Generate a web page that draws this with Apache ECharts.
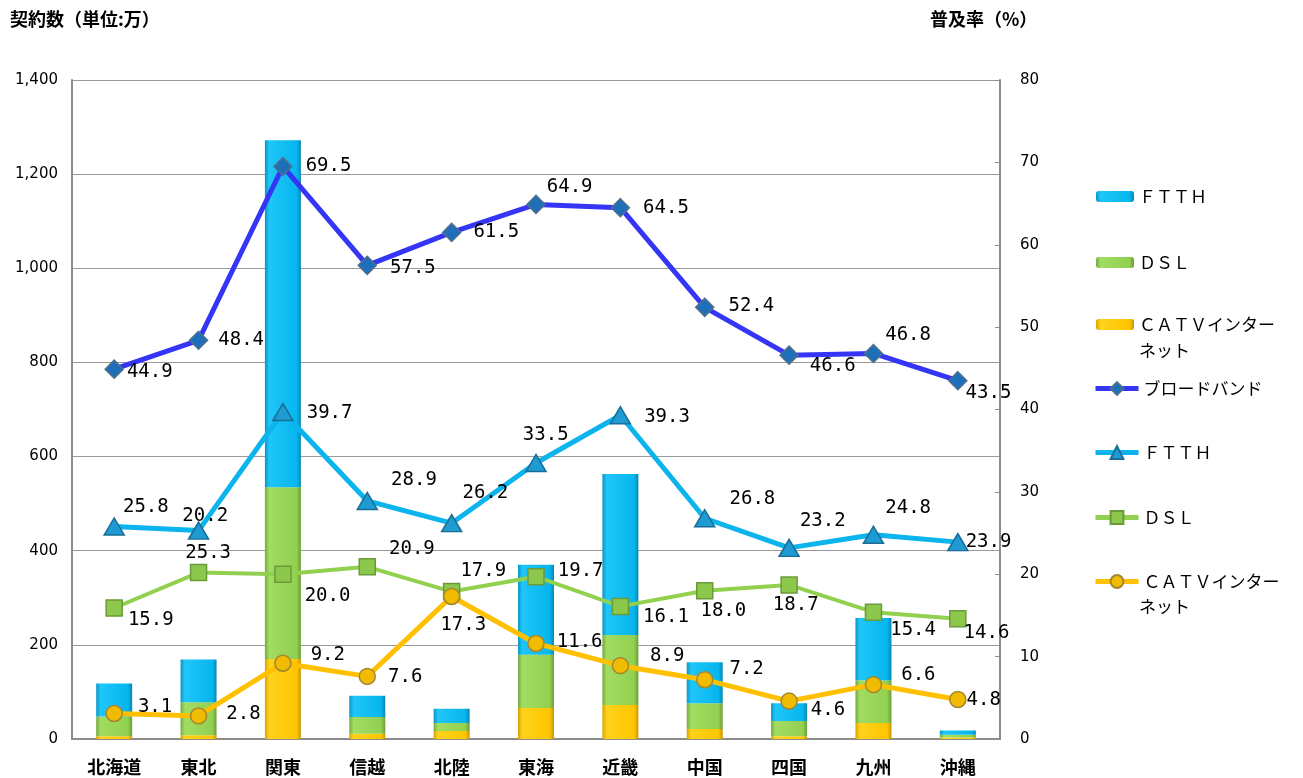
<!DOCTYPE html>
<html>
<head>
<meta charset="utf-8">
<script src="https://cdn.jsdelivr.net/npm/echarts@6/dist/echarts.min.js"></script>
<style>
  html, body { margin: 0; padding: 0; background: #fff; }
  #chart { width: 1303px; height: 778px; }
</style>
</head>
<body>
<div id="chart"></div>
<script>
// regions
const categories = ['北海道', '東北', '関東', '信越', '北陸', '東海', '近畿', '中国', '四国', '九州', '沖縄'];

// subscriptions (万) - stacked bars
const ftthSubs = [70, 91, 737, 45, 30, 191, 342, 87, 38, 132, 9];
const dslSubs = [42, 70, 365, 36, 17, 113, 149, 55, 32, 91, 6];
const catvSubs = [6, 8, 170, 11, 17, 66, 72, 21, 6, 34, 3];

// penetration rates (%)
const broadbandRate = [44.9, 48.4, 69.5, 57.5, 61.5, 64.9, 64.5, 52.4, 46.6, 46.8, 43.5];
const ftthRate = [25.8, 25.3, 39.7, 28.9, 26.2, 33.5, 39.3, 26.8, 23.2, 24.8, 23.9];
const dslRate = [15.9, 20.2, 20.0, 20.9, 17.9, 19.7, 16.1, 18.0, 18.7, 15.4, 14.6];
const catvRate = [3.1, 2.8, 9.2, 7.6, 17.3, 11.6, 8.9, 7.2, 4.6, 6.6, 4.8];

// printed labels (the source chart shows 東北 FTTH/DSL labels swapped)
const ftthRateText = ['25.8', '20.2', '39.7', '28.9', '26.2', '33.5', '39.3', '26.8', '23.2', '24.8', '23.9'];
const dslRateText = ['15.9', '25.3', '20.0', '20.9', '17.9', '19.7', '16.1', '18.0', '18.7', '15.4', '14.6'];

// axis ticks
const leftMax = 1400, leftStep = 200;
const rightMax = 80, rightStep = 10;

// label nudges [dx, dy], layout only
const bbOff = [[-5,3],[2,0],[5,0],[5,3],[4,0],[-7,-17],[5,0],[6,-1],[3,11],[-6,-18],[-10,12]];
const ftOff = [[-10,-19],[-35,-15],[5,1],[5,-21],[-8,-30],[-32,-28],[5,2],[6,-19],[-8,-27],[-7,-27],[-11,0]];
const dsOff = [[-3,12],[-30,-20],[5,22],[5,-18],[-8,-20],[5,-6],[6,11],[-21,20],[-33,20],[0,18],[-11,14]];
const caOff = [[7,-6],[11,-2],[11,-8],[4,1],[-28,29],[4,-1],[13,-10],[8,-11],[5,9],[11,-10],[-8,1]];

const JP = '"Noto Sans CJK JP", sans-serif';
const NUM = '"DejaVu Sans Mono", monospace';
const AX = '"DejaVu Sans", sans-serif';

function barGrad(c0, c1, c2, c3) {
  return new echarts.graphic.LinearGradient(0, 0, 1, 0, [
    { offset: 0, color: c0 }, { offset: 0.12, color: c1 },
    { offset: 0.88, color: c2 }, { offset: 1, color: c3 }
  ]);
}

function pointData(values, offsets, texts) {
  return values.map((v, i) => ({
    value: v,
    label: { offset: offsets[i], formatter: texts ? texts[i] : v.toFixed(1) }
  }));
}

const lineLabel = {
  show: true, position: 'right', distance: 8,
  fontFamily: NUM, fontSize: 19, color: '#000'
};

const chart = echarts.init(document.getElementById('chart'));

// one legend block per entry so each row sits where the original has it
const legendBox = (name, centerY, isBar, fmt) => {
  const box = {
    left: isBar ? 1096 : 1093, top: centerY - 9, padding: 0, orient: 'vertical',
    itemWidth: isBar ? 38 : 43, itemHeight: isBar ? 11 : 16,
    data: [name], selectedMode: false,
    formatter: fmt || (n => n.trim()),
    textStyle: { fontFamily: JP, fontSize: 17, color: '#000' }
  };
  if (!isBar) box.lineStyle = { width: 5 };
  return box;
};

const option = {
  animation: false,
  textStyle: { fontFamily: JP },
  grid: { left: 72, right: 303, top: 80, bottom: 39 },
  legend: [
    legendBox('ＦＴＴＨ', 197, true),
    legendBox('ＤＳＬ', 263, true),
    legendBox('ＣＡＴＶインターネット', 325, true, () => 'ＣＡＴＶインター'),
    legendBox('ブロードバンド', 389, false),
    legendBox('ＦＴＴＨ ', 453, false),
    legendBox('ＤＳＬ ', 518, false),
    legendBox('ＣＡＴＶインターネット ', 582, false, () => 'ＣＡＴＶインター')
  ],
  graphic: [
    { type: 'text', left: 10, top: 10, style: { text: '契約数（単位:万）', font: 'bold 18px ' + JP, fill: '#000' } },
    { type: 'text', left: 930, top: 10, style: { text: '普及率（%）', font: 'bold 18px ' + JP, fill: '#000' } },
    { type: 'text', left: 1139, top: 342, style: { text: 'ネット', font: '17px ' + JP, fill: '#000' } },
    { type: 'text', left: 1139, top: 598, style: { text: 'ネット', font: '17px ' + JP, fill: '#000' } }
  ],
  xAxis: {
    type: 'category',
    data: categories,
    axisLine: { lineStyle: { color: '#8c8c8c', width: 2 } },
    axisTick: { inside: true, length: 6, lineStyle: { color: '#8c8c8c' } },
    axisLabel: { margin: 19, fontFamily: JP, fontSize: 18, fontWeight: 'bold', color: '#000' }
  },
  yAxis: [
    {
      type: 'value', min: 0, max: leftMax, interval: leftStep,
      axisLine: { show: true, lineStyle: { color: '#8c8c8c', width: 2 } },
      axisTick: { show: false },
      splitLine: { lineStyle: { color: '#999', width: 1 } },
      axisLabel: {
        margin: 14, fontFamily: AX, fontSize: 15, color: '#000',
        formatter: v => v.toLocaleString('en-US')
      }
    },
    {
      type: 'value', min: 0, max: rightMax, interval: rightStep,
      axisLine: { show: true, lineStyle: { color: '#8c8c8c', width: 2 } },
      axisTick: { show: true, inside: true, length: 5, lineStyle: { color: '#8c8c8c' } },
      splitLine: { show: false },
      axisLabel: { margin: 20, fontFamily: AX, fontSize: 15, color: '#000' }
    }
  ],
  series: [
    {
      name: 'ＣＡＴＶインターネット', type: 'bar', stack: 'subs', barWidth: 36, data: catvSubs,
      itemStyle: { color: barGrad('#d9a300', '#ffd21c', '#ffc600', '#c99400') }
    },
    {
      name: 'ＤＳＬ', type: 'bar', stack: 'subs', barWidth: 36, data: dslSubs,
      itemStyle: { color: barGrad('#72ab3f', '#a2dc62', '#92d050', '#6a9e38') }
    },
    {
      name: 'ＦＴＴＨ', type: 'bar', stack: 'subs', barWidth: 36, data: ftthSubs,
      itemStyle: { color: barGrad('#0a95c8', '#20c6f8', '#05b6ee', '#0886b6') }
    },
    {
      name: 'ブロードバンド', type: 'line', yAxisIndex: 1, z: 5,
      data: pointData(broadbandRate, bbOff),
      symbol: 'diamond', symbolSize: 18,
      lineStyle: { color: '#3535f5', width: 5 },
      itemStyle: { color: '#1e6fb9', borderColor: '#4f6f8c', borderWidth: 1.5 },
      label: lineLabel
    },
    {
      name: 'ＦＴＴＨ ', type: 'line', yAxisIndex: 1, z: 5,
      data: pointData(ftthRate, ftOff, ftthRateText),
      symbol: 'triangle', symbolSize: [20, 17],
      lineStyle: { color: '#0bb4ec', width: 5 },
      itemStyle: { color: '#1d9bd2', borderColor: '#1b6d96', borderWidth: 1.5 },
      label: lineLabel
    },
    {
      name: 'ＤＳＬ ', type: 'line', yAxisIndex: 1, z: 5,
      data: pointData(dslRate, dsOff, dslRateText),
      symbol: 'rect', symbolSize: 16,
      lineStyle: { color: '#92d050', width: 4 },
      itemStyle: { color: '#8cc84b', borderColor: '#6b9a3b', borderWidth: 1.5 },
      label: lineLabel
    },
    {
      name: 'ＣＡＴＶインターネット ', type: 'line', yAxisIndex: 1, z: 5,
      data: pointData(catvRate, caOff),
      symbol: 'circle', symbolSize: 16,
      lineStyle: { color: '#ffc000', width: 5 },
      itemStyle: { color: '#f0bb00', borderColor: '#a4862e', borderWidth: 1.5 },
      label: lineLabel
    }
  ]
};

chart.setOption(option);
</script>
</body>
</html>
